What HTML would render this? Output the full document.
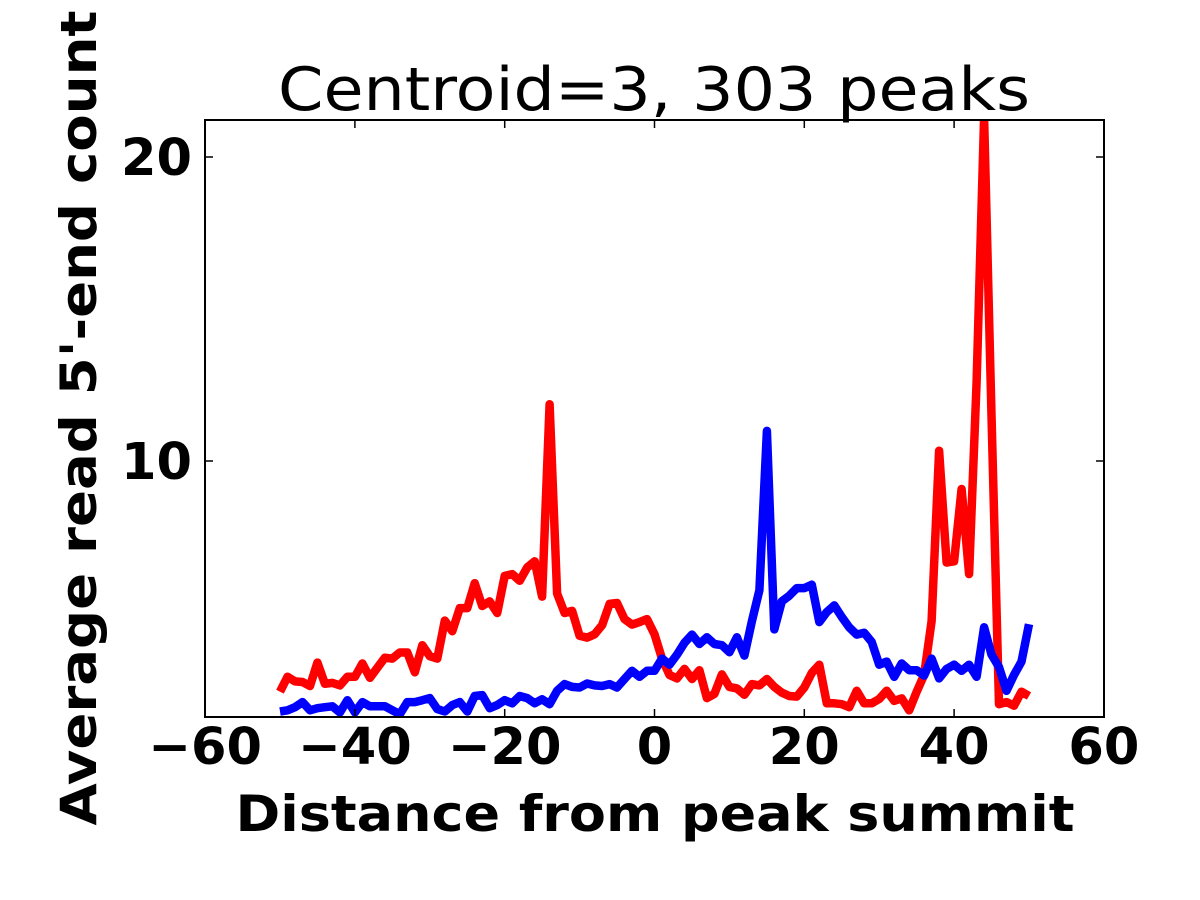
<!DOCTYPE html>
<html><head><meta charset="utf-8"><style>
html,body{margin:0;padding:0;background:#fff;}
svg{display:block;}
</style></head><body>
<svg id="chart" width="1200" height="900" viewBox="0 0 1200 900" xmlns="http://www.w3.org/2000/svg">
<defs><clipPath id="plotclip"><rect x="205" y="120" width="899" height="597"/></clipPath></defs>
<text x="654" y="110" text-anchor="middle" font-family="DejaVu Sans, 'Liberation Sans', sans-serif" font-size="60" textLength="752" lengthAdjust="spacingAndGlyphs">Centroid=3, 303 peaks</text>
<g id="plot" clip-path="url(#plotclip)"></g>
<rect x="205" y="120" width="899" height="597" fill="none" stroke="#000" stroke-width="2"/>
<g id="ticks"></g>
<text x="655" y="831" text-anchor="middle" font-family="DejaVu Sans, 'Liberation Sans', sans-serif" font-weight="bold" font-size="50" textLength="839" lengthAdjust="spacingAndGlyphs">Distance from peak summit</text>
<text transform="translate(96,418) rotate(-90)" x="0" y="0" text-anchor="middle" font-family="DejaVu Sans, 'Liberation Sans', sans-serif" font-weight="bold" font-size="50" textLength="815" lengthAdjust="spacingAndGlyphs">Average read 5'-end count</text>
</svg>
<script>
const positions = [];
for (let i = -50; i <= 50; i++) positions.push(i);
const redValues = [2.41,2.9,2.75,2.73,2.6,3.37,2.67,2.7,2.62,2.9,2.9,3.34,2.87,3.2,3.53,3.5,3.7,3.7,3.05,3.94,3.58,3.5,4.75,4.4,5.16,5.16,5.98,5.23,5.38,5.0,6.22,6.28,6.06,6.5,6.7,5.54,11.87,5.64,5.0,5.07,4.25,4.19,4.3,4.6,5.3,5.33,4.8,4.62,4.7,4.8,
4.3,3.5,2.96,2.85,3.16,2.83,3.12,2.2,2.34,2.98,2.57,2.52,2.31,2.66,2.62,2.83,2.57,2.38,2.27,2.25,2.55,3.03,3.3,2.03,2.03,2.0,1.9,2.44,2.03,2.03,2.17,2.44,2.11,2.19,1.8,2.41,2.96,4.73,10.34,6.66,6.7,9.08,6.28,12.6,21.3,11.5,2.0,2.07,1.95,2.41,2.27];
const blueValues = [1.76,1.8,1.9,2.07,1.8,1.87,1.9,1.93,1.73,2.13,1.73,2.07,1.93,1.93,1.93,1.8,1.67,2.07,2.07,2.13,2.2,1.84,1.76,1.97,2.07,1.76,2.27,2.3,1.87,1.97,2.13,2.03,2.27,2.2,2.03,2.16,2.0,2.44,2.66,2.57,2.55,2.68,2.62,2.6,2.66,2.55,2.83,3.1,2.9,3.1,
3.1,3.5,3.3,3.63,4.02,4.29,3.98,4.2,3.98,3.94,3.71,4.2,3.6,4.73,5.75,10.99,4.46,5.38,5.57,5.82,5.82,5.93,4.7,5.03,5.25,4.87,4.53,4.29,4.35,4.05,3.3,3.4,2.9,3.34,3.12,3.12,2.94,3.5,2.85,3.16,3.3,3.1,3.3,2.9,4.53,3.63,3.22,2.44,2.96,3.4,4.63];
const xTickValues = [-60,-40,-20,0,20,40,60];
const xTickLabels = ["\u221260","\u221240","\u221220","0","20","40","60"];
const yTickValues = [10,20];
const yTickLabels = ["10","20"];

const NS = "http://www.w3.org/2000/svg";
function xs(v){ return 654.5 + v * 7.49; }
function ys(v){ return 765 - v * 30.4; }

const plot = document.getElementById('plot');
function drawLine(vals, color, name){
  const p = document.createElementNS(NS,'polyline');
  p.setAttribute('points', vals.map((v,i)=>xs(positions[i]).toFixed(1)+','+ys(v).toFixed(1)).join(' '));
  p.setAttribute('fill','none');
  p.setAttribute('stroke',color);
  p.setAttribute('stroke-width','8.5');
  p.setAttribute('stroke-linejoin','round');
  
  
  plot.appendChild(p);
}
drawLine(redValues,'#ff0000','red-series-line');
drawLine(blueValues,'#0000ff','blue-series-line');

const ticks = document.getElementById('ticks');
xTickValues.forEach((v,i)=>{
  const x = xs(v);
  [[717,709],[120,128]].forEach(([a,b])=>{
    const l = document.createElementNS(NS,'line');
    l.setAttribute('x1',x);l.setAttribute('x2',x);l.setAttribute('y1',a);l.setAttribute('y2',b);
    l.setAttribute('stroke','#000');l.setAttribute('stroke-width','1.5');
    
    
    ticks.appendChild(l);
  });
  const t = document.createElementNS(NS,'text');
  t.setAttribute('x',x);t.setAttribute('y',764);
  t.setAttribute('text-anchor','middle');
  t.setAttribute('font-family','DejaVu Sans, Liberation Sans, sans-serif');
  t.setAttribute('font-weight','bold');t.setAttribute('font-size','51');
  t.textContent = xTickLabels[i];
  
  
  ticks.appendChild(t);
});
yTickValues.forEach((v,i)=>{
  const y = ys(v);
  [[205,213],[1104,1096]].forEach(([a,b])=>{
    const l = document.createElementNS(NS,'line');
    l.setAttribute('x1',a);l.setAttribute('x2',b);l.setAttribute('y1',y);l.setAttribute('y2',y);
    l.setAttribute('stroke','#000');l.setAttribute('stroke-width','1.5');
    
    
    ticks.appendChild(l);
  });
  const t = document.createElementNS(NS,'text');
  t.setAttribute('x',192);t.setAttribute('y',y+18);
  t.setAttribute('text-anchor','end');
  t.setAttribute('font-family','DejaVu Sans, Liberation Sans, sans-serif');
  t.setAttribute('font-weight','bold');t.setAttribute('font-size','51');
  t.textContent = yTickLabels[i];
  
  
  ticks.appendChild(t);
});
</script>
</body></html>
